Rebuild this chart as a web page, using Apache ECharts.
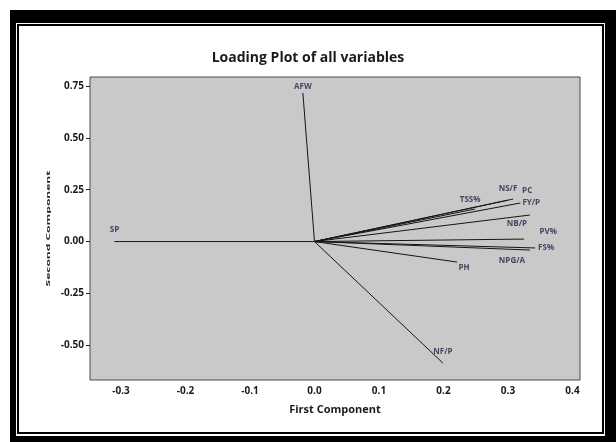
<!DOCTYPE html>
<html><head><meta charset="utf-8">
<script src="https://cdn.jsdelivr.net/npm/echarts@6/dist/echarts.min.js"></script>
<style>html,body{margin:0;padding:0;background:#fff}#c{width:616px;height:442px}</style>
</head><body><div id="c"></div>
<script>
const variables = ['AFW','SP','NF/P','PH','NPG/A','FS%','PV%','NB/P','FY/P','PC','NS/F','TSS%'];
const firstComponent = [-0.018,-0.310,0.199,0.221,0.334,0.342,0.325,0.334,0.319,0.308,0.300,0.249];
const secondComponent = [0.717,0.000,-0.586,-0.099,-0.041,-0.031,0.012,0.128,0.186,0.205,0.200,0.157];
const xTicks = [-0.3,-0.2,-0.1,0.0,0.1,0.2,0.3,0.4];
const yTicks = [-0.50,-0.25,0.00,0.25,0.50,0.75];

// label placement (pixel offsets from each vector's end point)
const labelOffsets = {
  'AFW':[0,-6],'SP':[0,-12],'NF/P':[0,-11],'PH':[7,6],'NPG/A':[-18,11],'FS%':[11,0],
  'PV%':[24,-7],'NB/P':[-13,9],'FY/P':[11,0],'PC':[14,-8],'NS/F':[0,-11],'TSS%':[-5,-9]
};

const G = {left:90, top:77, right:36, bottom:62};
const W = 616, H = 442;
const gw = W - G.left - G.right, gh = H - G.top - G.bottom;

const vectorSeries = variables.map((v,i)=>({
  type:'line', name:v, data:[[0,0],[firstComponent[i],secondComponent[i]]],
  symbol:'none', silent:true, z:3,
  lineStyle:{color:'#151515', width:1}
}));

const labelSeries = {
  type:'scatter', z:4, silent:true, symbolSize:0.1,
  itemStyle:{color:'rgba(0,0,0,0)'},
  data: variables.map((v,i)=>({
    name:v, value:[firstComponent[i],secondComponent[i]],
    label:{offset:labelOffsets[v]}
  })),
  label:{show:true, position:'inside', formatter:p=>p.name,
    fontFamily:'Open Sans', fontWeight:'bold', fontSize:8, color:'#24204e'}
};

const chart = echarts.init(document.getElementById('c'), null, {renderer:'canvas'});
chart.setOption({
  animation:false,
  backgroundColor:'#ffffff',
  title:{text:'Loading Plot of all variables', left:'center', top:46, padding:[5,0,5,22],
    textStyle:{fontFamily:'Open Sans', fontWeight:'bold', fontSize:14, color:'#1a1a1a'}},
  graphic:[
    {type:'rect', z:-10, silent:true, shape:{x:10,y:10,width:606,height:432}, style:{fill:'#000'}},
    {type:'rect', z:-9, silent:true, shape:{x:16,y:23,width:589,height:413}, style:{fill:'#fff'}},
    {type:'rect', z:-8, silent:true, shape:{x:18,y:25,width:585,height:408}, style:{fill:'#fff', stroke:'#000', lineWidth:2}},
    {type:'rect', z:-1, silent:true, shape:{x:G.left,y:G.top+gh-10,width:gw,height:10},
      style:{fill:new echarts.graphic.LinearGradient(0,0,0,1,[{offset:0,color:'rgba(80,80,80,0)'},{offset:1,color:'rgba(60,60,60,0.55)'}])}},
    {type:'rect', z:-1, silent:true, shape:{x:G.left+gw-6,y:G.top,width:6,height:gh},
      style:{fill:new echarts.graphic.LinearGradient(0,0,1,0,[{offset:0,color:'rgba(80,80,80,0)'},{offset:1,color:'rgba(60,60,60,0.5)'}])}},
    {type:'rect', z:-1, silent:true, shape:{x:G.left,y:G.top,width:5,height:gh},
      style:{fill:new echarts.graphic.LinearGradient(0,0,1,0,[{offset:0,color:'rgba(60,60,60,0.45)'},{offset:1,color:'rgba(80,80,80,0)'}])}},
    {type:'rect', z:-1, silent:true, shape:{x:G.left,y:G.top,width:gw,height:4},
      style:{fill:new echarts.graphic.LinearGradient(0,0,0,1,[{offset:0,color:'rgba(60,60,60,0.45)'},{offset:1,color:'rgba(80,80,80,0)'}])}},
    {type:'text', silent:true, x:48, y:G.top+gh/2, rotation:Math.PI/2, scaleY:0.5,
      style:{text:'Second Component', fontFamily:'Open Sans', fontWeight:'bold', fontSize:12,
        fill:'#222', align:'center', verticalAlign:'middle'}}
  ],
  grid:{left:G.left, top:G.top, right:G.right, bottom:G.bottom, show:true,
    backgroundColor:'#c9c9c9', borderColor:'#4a4a4a', borderWidth:1},
  xAxis:{type:'value', min:-0.348, max:0.4116,
    name:'First Component', nameLocation:'middle', nameGap:24,
    nameTextStyle:{fontFamily:'Open Sans', fontWeight:'bold', fontSize:11, color:'#1a1a1a'},
    axisLine:{show:false, onZero:false}, splitLine:{show:false},
    axisTick:{show:false},
    axisLabel:{customValues:xTicks, formatter:v=>v.toFixed(1), margin:6,
      fontFamily:'Open Sans', fontWeight:'bold', fontSize:10, color:'#1a1a1a'}},
  yAxis:{type:'value', min:-0.668, max:0.794,
    axisLine:{show:false, onZero:false}, splitLine:{show:false},
    axisTick:{show:true, customValues:yTicks, length:4, lineStyle:{color:'#222'}},
    axisLabel:{customValues:yTicks, formatter:v=>v.toFixed(2), margin:6,
      fontFamily:'Open Sans', fontWeight:'bold', fontSize:10, color:'#1a1a1a'}},
  series:[...vectorSeries, labelSeries]
});
</script></body></html>
